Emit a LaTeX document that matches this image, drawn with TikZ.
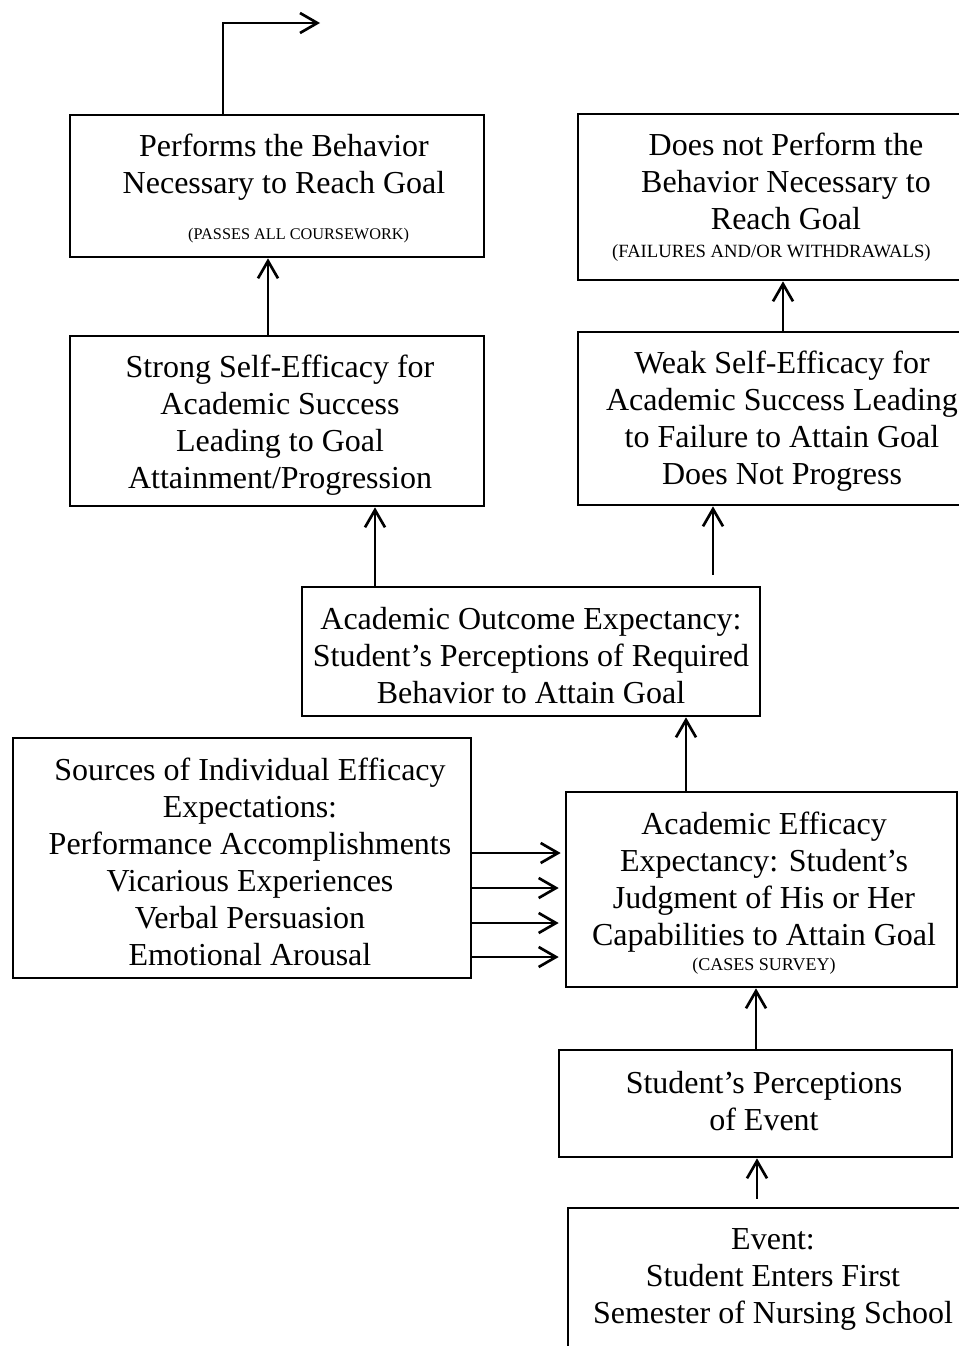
\documentclass[tikz,border=0pt]{standalone}
\usepackage{fontspec}
\setmainfont{Liberation Serif}
\usetikzlibrary{arrows.meta}
\newcommand{\bigf}{\fontsize{24}{27.75}\selectfont}
\newcommand{\smallf}{\fontsize{13.5}{16}\selectfont}
\tikzset{
  boxnode/.style={draw, line width=2pt, inner sep=0pt, rectangle},
  txt/.style={align=center, inner sep=0pt, font=\bigf},
  arr/.style={line width=2pt, -{Straight Barb[length=13pt,width=15pt]}},
  conn/.style={line width=2pt}
}
\begin{document}
\begin{tikzpicture}[x=0.75pt,y=-0.75pt]
\useasboundingbox (0,0) rectangle (959,1346);
% boxes
\node[boxnode, minimum width=310.5pt, minimum height=106.5pt] (b1) at (277,186) {};
\node[boxnode, minimum width=310.5pt, minimum height=127.5pt] (b2) at (277,421) {};
\node[boxnode, minimum width=307.5pt, minimum height=124.5pt] (b3) at (783,197) {};
\node[boxnode, minimum width=306pt, minimum height=129.75pt] (b4) at (782,418.5) {};
\node[boxnode, minimum width=343.5pt, minimum height=96.75pt] (b5) at (531,651.5) {};
\node[boxnode, minimum width=343.5pt, minimum height=180pt] (b6) at (242,858) {};
\node[boxnode, minimum width=293.25pt, minimum height=146.25pt] (b7) at (761.5,889.5) {};
\node[boxnode, minimum width=294.75pt, minimum height=80.25pt] (b8) at (755.5,1103.5) {};
\node[boxnode, minimum width=307.5pt, minimum height=144pt] (b9) at (773,1304) {};
% texts
\node[txt] (t1) at (284,188.5) {Performs the Behavior\\Necessary to Reach Goal\\[7pt]{\fontsize{12.2}{15}\selectfont\hspace*{22pt}(PASSES ALL COURSEWORK)}};
\node[txt] (t2) at (280,425) {Strong Self-Efficacy for\\Academic Success\\Leading to Goal\\Attainment/Progression};
\node[txt] (t3) at (786,197.5) {Does not Perform the\\Behavior Necessary to\\Reach Goal\\[-7pt]{\fontsize{14}{16}\selectfont (FAILURES AND/OR WITHDRAWALS)\hspace*{22pt}}};
\node[txt] (t4) at (782,421) {Weak Self-Efficacy for\\Academic Success Leading\\to Failure to Attain Goal\\Does Not Progress};
\node[txt] (t5) at (531,655.5) {Academic Outcome Expectancy:\\Student’s Perceptions of Required\\Behavior to Attain Goal};
\node[txt] (t6) at (250,862) {Sources of Individual Efficacy\\Expectations:\\Performance Accomplishments\\Vicarious Experiences\\Verbal Persuasion\\Emotional Arousal};
\node[txt] (t7) at (764,893) {Academic Efficacy\\Expectancy: Student’s\\Judgment of His or Her\\Capabilities to Attain Goal\\[-9pt]{\smallf (CASES SURVEY)}};
\node[txt] (t8) at (764,1101.5) {Student’s Perceptions\\of Event};
\node[txt] (t9) at (773,1279) {Event:\\Student Enters First\\Semester of Nursing School};
% helper coordinates
\coordinate (xa) at (223,0);
\coordinate (top) at (223,23);
\coordinate (topend) at (320,23);
\coordinate (x12) at (268,0);
\coordinate (x52) at (375,0);
\coordinate (x54) at (713,0);
\coordinate (x43) at (783,0);
\coordinate (x75) at (686,0);
\coordinate (x87) at (756,0);
\coordinate (x98) at (757,0);
\coordinate (s1) at (0,853);
\coordinate (s2) at (0,888);
\coordinate (s3) at (0,923);
\coordinate (s4) at (0,957);
% connectors
\draw[arr] (xa |- b1.north) -- (top) -- (topend);
\draw[arr] (x12 |- b2.north) -- (x12 |- b1.south);
\draw[arr] (x52 |- b5.north) -- (x52 |- b2.south);
\draw[arr, shorten <=8.25pt] (x54 |- b5.north) -- (x54 |- b4.south);
\draw[arr] (x43 |- b4.north) -- (x43 |- b3.south);
\draw[arr] (x75 |- b7.north) -- (x75 |- b5.south);
\draw[arr] (x87 |- b8.north) -- (x87 |- b7.south);
\draw[arr, shorten <=6pt] (x98 |- b9.north) -- (x98 |- b8.south);
\draw[arr, shorten >=3pt] (s1 -| b6.east) -- (s1 -| b7.west);
\draw[arr, shorten >=4.5pt] (s2 -| b6.east) -- (s2 -| b7.west);
\draw[arr, shorten >=4.5pt] (s3 -| b6.east) -- (s3 -| b7.west);
\draw[arr, shorten >=4.5pt] (s4 -| b6.east) -- (s4 -| b7.west);
\end{tikzpicture}
\end{document}
